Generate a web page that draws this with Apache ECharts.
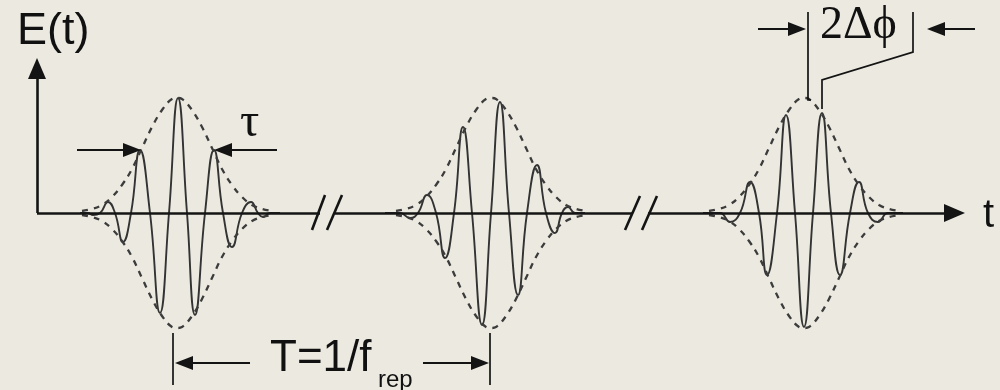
<!DOCTYPE html>
<html><head><meta charset="utf-8">
<script src="https://cdn.jsdelivr.net/npm/echarts@6/dist/echarts.min.js"></script>
<style>html,body{margin:0;padding:0;background:#eceae0}#c{width:1000px;height:390px}</style>
</head><body><div id="c"></div>
<script>
// ---- data (t in drawing units, E with baseline 0) ----
const pulse1 = [[80,0],[88,0],[93,-2],[100,0],[108,11],[115,0],[123,-29],[131,0],[140,63],[150,0],[160,-100],[169,0],[178,115],[187,0],[195,-102],[205,0],[214,63],[223,0],[232,-34],[242,0],[251,11],[258,0],[263,-4],[270,0],[280,0]];
const pulse2 = [[385,0],[400,0],[410,-5],[418,0],[427,18],[436,0],[445,-45],[454,0],[463,86],[472,0],[482,-112],[491,0],[500,111],[509,0],[518,-82],[527,0],[537,48],[546,0],[555,-20],[562,0],[568,6],[575,0],[585,0]];
const pulse3 = [[703,0],[720,0],[730,-9],[740,0],[750,31],[759,0],[767,-62],[777,0],[786,98],[795,0],[804,-114],[813,0],[822,100],[831,0],[840,-62],[850,0],[859,31],[868,0],[878,-9],[888,0],[903,0]];
const envelopeOffset = [-95,-85,-75,-65,-55,-45,-35,-25,-15,-5,0,5,15,25,35,45,55,65,75,85,95];
const envelopeHeight = [2,4,8,16,28,44,65,86,103,114,115,114,103,86,65,44,28,16,8,4,2];
const pulseCenters = [177, 491, 804];
const labelTexts = ['E(t)', 't', 'τ', 'T=1/f', 'rep', '2Δϕ'];

// ---- build chart ----
const AX = '#141414', WAVE = '#333333', DASH = '#3c3c3c';
function arrow(from, tip, len) {
  const dx = tip[0] - from[0], dy = tip[1] - from[1];
  const L = Math.hypot(dx, dy);
  return { coords: [from, [tip[0] - dx / L * len / 2, tip[1] - dy / L * len / 2]] };
}
const series = [];
[pulse1, pulse2, pulse3].forEach(function (p) {
  series.push({ type: 'line', data: p, smooth: 0.5, showSymbol: false, clip: false,
    lineStyle: { color: WAVE, width: 1.9 }, z: 2 });
});
pulseCenters.forEach(function (c) {
  [1, -1].forEach(function (s) {
    series.push({ type: 'line', smooth: 0.4, showSymbol: false, clip: false,
      data: envelopeOffset.map(function (o, i) { return [c + o, s * envelopeHeight[i]]; }),
      lineStyle: { color: DASH, width: 2.3, type: [6, 6] }, z: 2 });
  });
});
// axis arrows
series.push({ type: 'lines', coordinateSystem: 'cartesian2d', z: 4,
  symbol: ['none', 'triangle'], symbolSize: [0, [18, 21]],
  lineStyle: { color: AX, width: 2.6, opacity: 1 },
  data: [arrow([37, 0], [37, 155], 21), arrow([648, 0], [965, 0], 21)] });
// plain axis segments and break marks
series.push({ type: 'lines', coordinateSystem: 'cartesian2d', z: 4,
  lineStyle: { color: AX, width: 2.6, opacity: 1 },
  data: [
    { coords: [[37, 0], [320, 0]] }, { coords: [[335, 0], [633, 0]] },
    { coords: [[312, -17], [325, 18]] }, { coords: [[327, -17], [342, 18]] },
    { coords: [[625, -17], [640, 17]] }, { coords: [[642, -17], [657, 17]] }
  ] });
// annotation arrows
series.push({ type: 'lines', coordinateSystem: 'cartesian2d', z: 4,
  symbol: ['none', 'triangle'], symbolSize: [0, [14, 18]],
  lineStyle: { color: AX, width: 2, opacity: 1 },
  data: [
    arrow([77, 63], [141, 63], 18), arrow([277, 63], [214, 63], 18),
    arrow([250, -150], [175, -150], 18), arrow([423, -150], [489, -150], 18),
    arrow([758, 184], [806, 184], 18), arrow([975, 184], [927, 184], 18)
  ] });
// annotation brackets
series.push({ type: 'lines', coordinateSystem: 'cartesian2d', polyline: true, z: 4,
  lineStyle: { color: AX, width: 1.7, opacity: 1 },
  data: [
    { coords: [[173, -120], [173, -172]] }, { coords: [[490, -120], [490, -172]] },
    { coords: [[808, 201], [808, 113], [811, 113]] },
    { coords: [[913, 201], [913, 161], [822, 133], [822, 104]] }
  ] });
// text labels
const SANS = '"Liberation Sans", Arial, Helvetica, sans-serif';
const SERIF = '"Liberation Serif", "DejaVu Serif", serif';
const labelPos = [[17, 181], [983, -3], [240, 90], [270, -146], [378, -167], [820, 187]];
const labelFont = [[45, SANS], [40, SANS], [48, SERIF], [44, SANS], [24, SANS], [46, SERIF]];
series.push({ type: 'scatter', symbolSize: 0, z: 5, silent: true,
  itemStyle: { opacity: 1 },
  data: labelTexts.map(function (t, i) {
    return { value: labelPos[i], label: { show: true, formatter: t, position: [0, 0],
      align: 'left', verticalAlign: 'middle', color: '#111', opacity: 1,
      fontSize: labelFont[i][0], fontFamily: labelFont[i][1] } };
  }) });

const chart = echarts.init(document.getElementById('c'), null, { renderer: 'canvas' });
chart.setOption({
  backgroundColor: '#eceae0',
  animation: false,
  grid: { left: 0, right: 0, top: 0, bottom: 0 },
  xAxis: { type: 'value', min: 0, max: 1000, show: false },
  yAxis: { type: 'value', min: -177, max: 213, show: false },
  series: series
});
</script></body></html>
